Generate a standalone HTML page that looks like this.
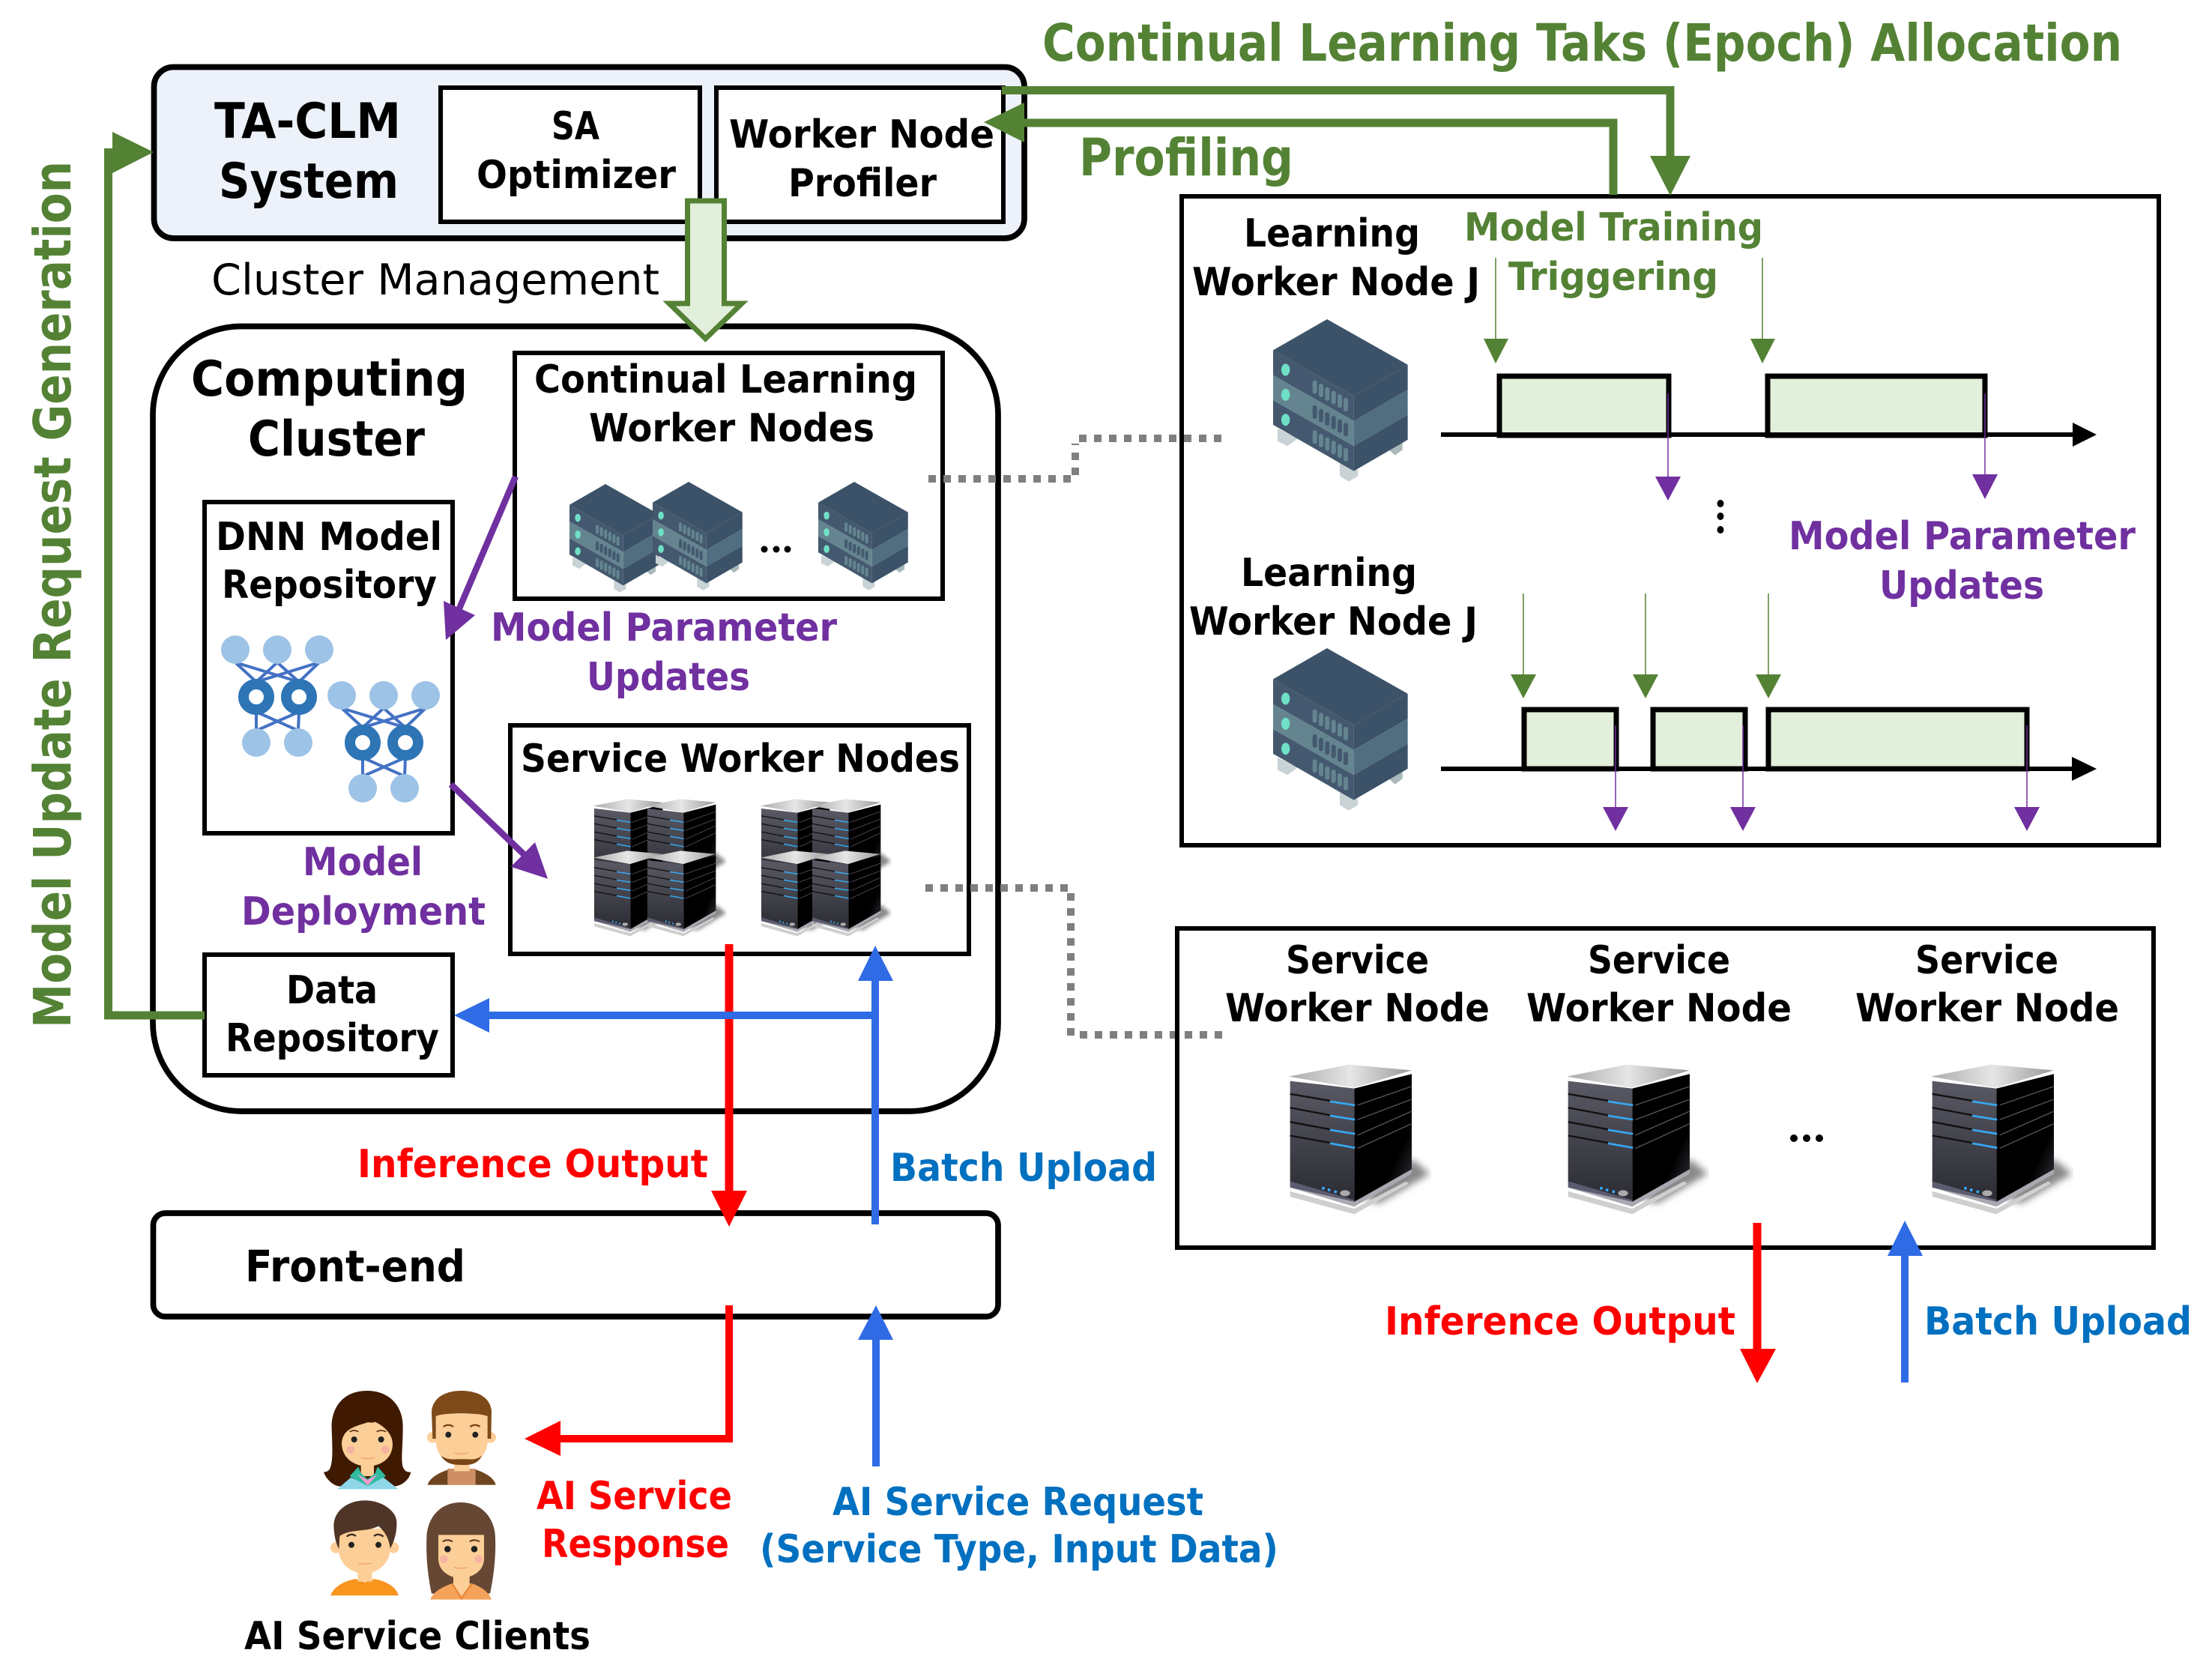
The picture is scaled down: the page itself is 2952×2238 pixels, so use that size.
<!DOCTYPE html>
<html><head><meta charset="utf-8"><style>
html,body{margin:0;padding:0;background:#fff}
svg{display:block}
text{font-family:"DejaVu Sans","Liberation Sans",sans-serif;font-weight:bold;fill:#000}
.g{fill:#548235}.p{fill:#7030A0}.r{fill:#f00}.b{fill:#0070C0}
.m{font-size:52px}.l{font-size:65px}.t{font-size:69px}
.box{fill:#fff;stroke:#000;stroke-width:6}
.tb{fill:#E2EFDA;stroke:#000;stroke-width:7}
.dot{fill:none;stroke:#7F7F7F;stroke-width:10;stroke-dasharray:10 10}
</style></head><body>
<svg xmlns="http://www.w3.org/2000/svg" width="2952" height="2238" viewBox="0 0 2952 2238">
<defs>
<linearGradient id="ft" x1="0" y1="0" x2="0" y2="1"><stop offset="0" stop-color="#5a5a66"/><stop offset="1" stop-color="#2b2b32"/></linearGradient>
<linearGradient id="sd" x1="0" y1="0" x2="1" y2="1"><stop offset="0" stop-color="#000"/><stop offset=".7" stop-color="#000"/><stop offset="1" stop-color="#3d3d48"/></linearGradient>
<linearGradient id="tp" x1="0" y1="0" x2="1" y2="0"><stop offset="0" stop-color="#aaa"/><stop offset=".5" stop-color="#e6e6e6"/><stop offset="1" stop-color="#999"/></linearGradient>
<filter id="bl" x="-30%" y="-30%" width="160%" height="160%"><feGaussianBlur stdDeviation="14"/></filter>
<symbol id="srv" viewBox="60 60 570 610" preserveAspectRatio="none">
<polygon points="552,440 625,500 420,620 360,600" fill="#888" filter="url(#bl)"/>
<polygon points="65,530 322,610 552,480 552,500 322,632 65,555" fill="#a9a9b2"/>
<polygon points="65,570 322,640 530,530 540,540 322,662 65,592" fill="#cfcfcf"/>
<polygon points="60,110 300,62 552,85 320,155" fill="url(#tp)"/>
<polygon points="65,128 322,158 322,612 65,532" fill="url(#ft)"/>
<polygon points="322,158 552,100 552,482 322,612" fill="url(#sd)"/>
<g stroke="#111" stroke-width="7" fill="none">
<path d="M65 180L225 207M65 235L225 265M65 292L225 322M65 347L225 376"/></g>
<g stroke="#35a8f2" stroke-width="8" fill="none">
<path d="M225 210L325 225M225 267L325 283M225 324L325 340M225 378L325 396"/></g>
<g stroke="#55555f" stroke-width="4" fill="none">
<path d="M335 225L550 150M335 283L550 202M335 345L550 250M335 398L550 300"/></g>
<polygon points="65,530 322,605 322,612 65,555" fill="#5c5c70"/>
<circle cx="198" cy="558" r="6" fill="#3aa7f5"/><circle cx="221" cy="565" r="6" fill="#3aa7f5"/><circle cx="247" cy="572" r="6" fill="#3aa7f5"/>
<ellipse cx="285" cy="578" rx="20" ry="12" fill="#aaa"/>
</symbol>
<symbol id="iso" viewBox="147 78 540 650" preserveAspectRatio="none">
<polygon points="165,515 245,555 205,585 165,565" fill="#c9d2d4"/>
<polygon points="414,650 487,680 487,705 450,727 414,705" fill="#c9d2d4"/>
<polygon points="610,600 665,570 665,600 635,622" fill="#a9b8ba"/>
<polygon points="363,78 147,202 470,385 686,260" fill="#3c5268"/>
<polygon points="147,202 470,385 470,485 147,302" fill="#44596f"/>
<polygon points="147,302 470,485 470,585 147,402" fill="#64858f"/>
<polygon points="147,402 470,585 470,685 147,500" fill="#44596f"/>
<polygon points="470,385 686,260 686,360 470,485" fill="#3c5268"/>
<polygon points="470,485 686,360 686,460 470,585" fill="#506e80"/>
<polygon points="470,585 686,460 686,560 470,685" fill="#3c5268"/>
<g fill="#6fe0c6"><ellipse cx="197" cy="280" rx="17" ry="24"/><ellipse cx="197" cy="380" rx="17" ry="24"/><ellipse cx="197" cy="480" rx="17" ry="24"/></g>
<g fill="#64858f"><rect x="305" y="322" width="18" height="54" rx="9"/><rect x="330" y="336" width="18" height="54" rx="9"/><rect x="355" y="350" width="18" height="54" rx="9"/><rect x="380" y="364" width="18" height="54" rx="9"/><rect x="405" y="378" width="18" height="54" rx="9"/><rect x="429" y="392" width="18" height="54" rx="9"/></g>
<g fill="#44596f"><rect x="305" y="422" width="18" height="54" rx="9"/><rect x="330" y="436" width="18" height="54" rx="9"/><rect x="355" y="450" width="18" height="54" rx="9"/><rect x="380" y="464" width="18" height="54" rx="9"/><rect x="405" y="478" width="18" height="54" rx="9"/><rect x="429" y="492" width="18" height="54" rx="9"/></g>
<g fill="#64858f"><rect x="305" y="522" width="18" height="54" rx="9"/><rect x="330" y="536" width="18" height="54" rx="9"/><rect x="355" y="550" width="18" height="54" rx="9"/><rect x="380" y="564" width="18" height="54" rx="9"/><rect x="405" y="578" width="18" height="54" rx="9"/><rect x="429" y="592" width="18" height="54" rx="9"/></g>
</symbol>
<g id="nn">
<g stroke="#4472C4" stroke-width="4" fill="none">
<path d="M314 884L342 910L426 884M370 884L342 910M370 884L399 910L314 884M426 884L399 910"/>
<path d="M342 950L342 975M342 950L398 975M399 950L398 975M399 950L342 975"/>
</g>
<g fill="#9DC3E6"><circle cx="314" cy="867" r="19"/><circle cx="370" cy="867" r="19"/><circle cx="426" cy="867" r="19"/><circle cx="342" cy="991" r="19"/><circle cx="398" cy="991" r="19"/></g>
<g fill="#fff" stroke="#2E75B6" stroke-width="14"><circle cx="342" cy="930" r="17"/><circle cx="399" cy="930" r="17"/></g>
</g>
</defs>

<rect width="2952" height="2238" fill="#fff"/>

<!-- TA-CLM -->
<rect x="205.500" y="89.500" width="1161.500" height="228.500" rx="26" fill="#EDF1F9" stroke="#000" stroke-width="7.700"/>
<rect class="box" x="588" y="117" width="346" height="179"/>
<rect class="box" x="956" y="117" width="383" height="179"/>
<text class="l" x="286" y="184" textLength="249" lengthAdjust="spacingAndGlyphs">TA-CLM</text>
<text class="l" x="292" y="264" textLength="240" lengthAdjust="spacingAndGlyphs">System</text>
<text class="m" x="736" y="186" textLength="64" lengthAdjust="spacingAndGlyphs">SA</text>
<text class="m" x="636" y="251" textLength="266" lengthAdjust="spacingAndGlyphs">Optimizer</text>
<text class="m" x="973" y="197" textLength="354" lengthAdjust="spacingAndGlyphs">Worker Node</text>
<text class="m" x="1052" y="262" textLength="198" lengthAdjust="spacingAndGlyphs">Profiler</text>
<text x="282" y="393" font-size="57" style="font-weight:normal" textLength="598" lengthAdjust="spacingAndGlyphs">Cluster Management</text>

<!-- Computing cluster -->
<rect x="204" y="435.500" width="1128" height="1047.500" rx="118" fill="#fff" stroke="#000" stroke-width="7.700"/>
<text class="l" x="255" y="528" textLength="369" lengthAdjust="spacingAndGlyphs">Computing</text>
<text class="l" x="331" y="608" textLength="236" lengthAdjust="spacingAndGlyphs">Cluster</text>
<rect class="box" x="687" y="471" width="571" height="328"/>
<text class="m" x="713" y="524" textLength="511" lengthAdjust="spacingAndGlyphs">Continual Learning</text>
<text class="m" x="786" y="589" textLength="381" lengthAdjust="spacingAndGlyphs">Worker Nodes</text>
<use href="#iso" x="760" y="646" width="120" height="145"/>
<use href="#iso" x="871" y="643" width="120" height="145"/>
<use href="#iso" x="1092" y="643" width="120" height="145"/>
<circle cx="1020" cy="733" r="4.500"/><circle cx="1036" cy="733" r="4.500"/><circle cx="1051" cy="733" r="4.500"/>

<rect class="box" x="273" y="670" width="331" height="442"/>
<text class="m" x="288" y="734" textLength="302" lengthAdjust="spacingAndGlyphs">DNN Model</text>
<text class="m" x="296" y="798" textLength="287" lengthAdjust="spacingAndGlyphs">Repository</text>
<use href="#nn"/>
<use href="#nn" transform="translate(142,61)"/>

<rect class="box" x="681" y="968" width="612" height="305"/>
<text class="m" x="695" y="1030" textLength="586" lengthAdjust="spacingAndGlyphs">Service Worker Nodes</text>
<use href="#srv" x="792" y="1066" width="107" height="116"/>
<use href="#srv" x="863" y="1066" width="107" height="116"/>
<use href="#srv" x="792" y="1135" width="107" height="116"/>
<use href="#srv" x="863" y="1135" width="107" height="116"/>
<use href="#srv" x="1015" y="1066" width="107" height="116"/>
<use href="#srv" x="1083" y="1066" width="107" height="116"/>
<use href="#srv" x="1015" y="1135" width="107" height="116"/>
<use href="#srv" x="1083" y="1135" width="107" height="116"/>

<rect class="box" x="273" y="1274" width="331" height="161"/>
<text class="m" x="382" y="1339" textLength="122" lengthAdjust="spacingAndGlyphs">Data</text>
<text class="m" x="301" y="1403" textLength="285" lengthAdjust="spacingAndGlyphs">Repository</text>

<text class="m p" x="655" y="855" textLength="462" lengthAdjust="spacingAndGlyphs">Model Parameter</text>
<text class="m p" x="783" y="921" textLength="218" lengthAdjust="spacingAndGlyphs">Updates</text>
<text class="m p" x="404" y="1168" textLength="160" lengthAdjust="spacingAndGlyphs">Model</text>
<text class="m p" x="322" y="1234" textLength="326" lengthAdjust="spacingAndGlyphs">Deployment</text>

<!-- purple arrows -->
<g stroke="#7030A0" stroke-width="8.500" fill="none"><path d="M688 636L613 812"/><path d="M601.700 1046.700L700 1141"/></g>
<polygon points="592,802 634,821 595,854" fill="#7030A0"/>
<polygon points="714,1124 681.700,1156.700 731,1172.700" fill="#7030A0"/>

<!-- Front-end -->
<rect x="204.500" y="1619" width="1127.500" height="138" rx="16" fill="#fff" stroke="#000" stroke-width="7.700"/>
<text x="327" y="1710" font-size="58" textLength="294" lengthAdjust="spacingAndGlyphs">Front-end</text>

<!-- red / blue -->
<path d="M973 1260V1592" stroke="#f00" stroke-width="11" fill="none"/>
<polygon points="949,1589 997,1589 973,1637" fill="#f00"/>
<path d="M1168 1634V1305M1168 1355H650" stroke="#2F6BE4" stroke-width="10" fill="none"/>
<polygon points="1145,1309 1192,1309 1168,1262" fill="#2F6BE4"/>
<polygon points="653,1332 653,1378 606,1355" fill="#2F6BE4"/>
<path d="M973 1742V1920H745" stroke="#f00" stroke-width="10" fill="none"/>
<polygon points="748,1896 748,1943 700,1920" fill="#f00"/>
<path d="M1169 1957V1785" stroke="#2F6BE4" stroke-width="10" fill="none"/>
<polygon points="1145,1788 1192,1788 1169,1742" fill="#2F6BE4"/>
<text class="m r" x="477" y="1571" textLength="468" lengthAdjust="spacingAndGlyphs">Inference Output</text>
<text class="m b" x="1188" y="1576" textLength="356" lengthAdjust="spacingAndGlyphs">Batch Upload</text>
<text class="m r" x="716" y="2014" textLength="261" lengthAdjust="spacingAndGlyphs">AI Service</text>
<text class="m r" x="723" y="2078" textLength="250" lengthAdjust="spacingAndGlyphs">Response</text>
<text class="m b" x="1111" y="2022" textLength="495" lengthAdjust="spacingAndGlyphs">AI Service Request</text>
<text class="m b" x="1014" y="2085" textLength="692" lengthAdjust="spacingAndGlyphs">(Service Type, Input Data)</text>
<text class="m" x="326" y="2201" textLength="462" lengthAdjust="spacingAndGlyphs">AI Service Clients</text>

<!-- avatars -->
<g transform="translate(400,1840) scale(.3333)">
<!-- woman 1 -->
<path d="M270 48C170 48 125 120 128 200C130 270 135 330 120 362C110 375 100 372 96 374C105 400 130 425 155 430H385C415 425 440 400 445 374C430 374 420 372 412 350C405 320 413 270 413 190C413 110 360 48 270 48Z" fill="#3f1a00"/>
<path d="M270 175C225 190 170 200 168 260C170 320 220 350 270 350C325 350 372 320 372 260C370 210 320 180 300 172C290 180 280 172 270 175Z" fill="#fdcf98"/>
<rect x="245" y="340" width="52" height="50" fill="#fdcf98"/>
<path d="M150 442L205 395L270 425L335 395L395 442Z" fill="#8fd6e8"/>
<path d="M200 390L235 352L245 378L272 402L302 378L312 352L345 390L272 430Z" fill="#2fbca0"/>
<path d="M230 382L272 405L312 382L272 428Z" fill="#f59ad0"/>
<circle cx="218" cy="243" r="12" fill="#222"/><circle cx="326" cy="243" r="12" fill="#222"/>
<circle cx="203" cy="284" r="16" fill="#f6b4a0"/><circle cx="343" cy="284" r="16" fill="#f6b4a0"/>
<path d="M245 315Q272 325 300 315" stroke="#f0a070" stroke-width="4" fill="none"/>
<path d="M200 212Q218 202 235 212M308 212Q326 202 345 212" stroke="#5a3015" stroke-width="5" fill="none"/>
<!-- man 1 -->
<path d="M512 425C520 395 560 375 600 362H700C740 375 778 395 785 425Z" fill="#6e4520"/>
<rect x="592" y="360" width="112" height="65" fill="#cf8f66"/>
<circle cx="532" cy="235" r="22" fill="#fdcf98"/><circle cx="764" cy="235" r="22" fill="#fdcf98"/>
<rect x="618" y="325" width="62" height="45" fill="#fdcf98"/>
<path d="M545 140H752V250C752 310 700 345 650 345C595 345 545 310 545 250Z" fill="#fdcf98"/>
<path d="M648 48C570 48 532 85 528 130L532 240L545 240V150C570 135 720 135 752 150V240L766 240L768 130C765 85 725 48 648 48Z" fill="#7e4a1a"/>
<path d="M565 308C600 330 620 320 648 322C680 320 700 330 730 308C710 345 680 345 648 345C610 345 585 340 565 308Z" fill="#7a4516"/>
<circle cx="595" cy="224" r="12" fill="#222"/><circle cx="703" cy="224" r="12" fill="#222"/>
<path d="M575 192Q595 178 615 192M682 192Q703 178 722 192" stroke="#7a4516" stroke-width="7" fill="none"/>
<path d="M620 296Q648 305 676 296" stroke="#f0a070" stroke-width="4" fill="none"/>
<!-- boy -->
<path d="M124 868C135 830 190 805 225 802L260 815L298 802C340 808 385 830 396 868Z" fill="#f7951d"/>
<rect x="232" y="770" width="58" height="42" fill="#fdcf98"/>
<circle cx="145" cy="676" r="22" fill="#fdcf98"/><circle cx="375" cy="676" r="22" fill="#fdcf98"/>
<path d="M155 600H362V680C362 740 310 780 260 780C205 780 155 740 155 680Z" fill="#fdcf98"/>
<path d="M262 487C190 487 136 530 136 590C138 630 145 660 157 682L160 630C200 600 270 615 315 590C340 610 358 640 362 680C380 650 390 610 388 570C385 530 330 487 262 487Z" fill="#4f3527"/>
<circle cx="207" cy="665" r="12" fill="#222"/><circle cx="315" cy="665" r="12" fill="#222"/>
<path d="M188 632Q207 616 225 630M297 630Q315 616 335 632" stroke="#3a2a20" stroke-width="7" fill="none"/>
<path d="M236 738Q262 746 288 738" stroke="#f0a070" stroke-width="4" fill="none"/>
<!-- woman 2 -->
<path d="M645 495C560 495 508 560 508 640C505 720 515 800 528 860H762C775 800 786 720 783 640C783 560 730 495 645 495Z" fill="#654733"/>
<path d="M523 884C535 850 580 830 610 820H690C720 830 755 850 768 884Z" fill="#f5a35a"/>
<path d="M615 780H680V825L648 870L615 825Z" fill="#fdcf98"/>
<path d="M610 820L648 880L690 820" stroke="#e88a3a" stroke-width="7" fill="none"/>
<path d="M555 625H738V720C738 770 690 798 645 798C600 798 555 770 555 720Z" fill="#fdcf98"/>
<circle cx="592" cy="682" r="13" fill="#222"/><circle cx="699" cy="682" r="13" fill="#222"/>
<circle cx="577" cy="722" r="16" fill="#f6b4a0"/><circle cx="716" cy="722" r="16" fill="#f6b4a0"/>
<path d="M572 652Q592 640 612 652M680 652Q699 640 720 652" stroke="#5a3a25" stroke-width="6" fill="none"/>
<path d="M618 755Q645 763 672 755" stroke="#f0a070" stroke-width="4" fill="none"/>
</g>

<!-- left green -->
<path d="M273 1355H144.500V198" stroke="#548235" stroke-width="11" fill="none"/>
<polygon points="150,176 205,203 150,231" fill="#548235"/>
<text class="t g" transform="translate(94,1372) rotate(-90)" textLength="1157" lengthAdjust="spacingAndGlyphs">Model Update Request Generation</text>

<!-- hollow arrow -->
<polygon points="917.500,268 966.500,268 966.500,405 990,405 941.500,452 893,405 917.500,405" fill="#E2EFDA" stroke="#548235" stroke-width="7"/>

<!-- dotted -->
<path class="dot" d="M1239 639H1430"/>
<path class="dot" d="M1435 634V592"/>
<path class="dot" d="M1440 585H1640"/>
<path class="dot" d="M1235 1185H1426"/>
<path class="dot" d="M1429 1192V1382"/>
<path class="dot" d="M1441 1381H1631"/>

<!-- right top panel -->
<rect x="1577" y="262" width="1304" height="866" fill="none" stroke="#000" stroke-width="6"/>
<text class="m" x="1660" y="329" textLength="235" lengthAdjust="spacingAndGlyphs">Learning</text>
<text class="m" x="1591" y="394" textLength="384" lengthAdjust="spacingAndGlyphs">Worker Node J</text>
<text class="m g" x="1954" y="321" textLength="399" lengthAdjust="spacingAndGlyphs">Model Training</text>
<text class="m g" x="2013" y="387" textLength="280" lengthAdjust="spacingAndGlyphs">Triggering</text>
<use href="#iso" x="1699" y="426" width="180" height="217"/>
<use href="#iso" x="1699" y="865" width="180" height="217"/>
<rect class="tb" x="2001" y="502" width="226" height="79"/>
<rect class="tb" x="2359" y="502" width="290" height="79"/>
<path d="M1923 580H2770" stroke="#000" stroke-width="6"/>
<polygon points="2766,564 2798,580 2766,596"/>
<g stroke="#548235" stroke-width="1.500"><path d="M1996 344V455M2352 344V455"/></g>
<polygon points="1980,452 2013,452 1996,485" fill="#548235"/>
<polygon points="2336,452 2369,452 2352,485" fill="#548235"/>
<g stroke="#7030A0" stroke-width="1.500"><path d="M2226 525V640M2649 525V640"/></g>
<polygon points="2209,636 2243,636 2226,668" fill="#7030A0"/>
<polygon points="2632,633 2666,633 2649,666" fill="#7030A0"/>
<ellipse cx="2296" cy="672" rx="4.500" ry="5"/><ellipse cx="2296" cy="689" rx="4.500" ry="5"/><ellipse cx="2296" cy="707" rx="4.500" ry="5"/>
<text class="m p" x="2387" y="733" textLength="463" lengthAdjust="spacingAndGlyphs">Model Parameter</text>
<text class="m p" x="2508" y="799" textLength="220" lengthAdjust="spacingAndGlyphs">Updates</text>
<text class="m" x="1656" y="782" textLength="235" lengthAdjust="spacingAndGlyphs">Learning</text>
<text class="m" x="1587" y="847" textLength="385" lengthAdjust="spacingAndGlyphs">Worker Node J</text>
<rect class="tb" x="2034" y="947" width="123" height="79"/>
<rect class="tb" x="2206" y="947" width="123" height="79"/>
<rect class="tb" x="2360" y="947" width="345" height="79"/>
<path d="M1923 1026H2770" stroke="#000" stroke-width="6"/>
<polygon points="2765,1010 2798,1026 2765,1042"/>
<g stroke="#548235" stroke-width="1.500"><path d="M2033 792V903M2196 792V903M2360 792V903"/></g>
<polygon points="2016,900 2050,900 2033,932" fill="#548235"/>
<polygon points="2179,900 2213,900 2196,932" fill="#548235"/>
<polygon points="2343,900 2377,900 2360,932" fill="#548235"/>
<g stroke="#7030A0" stroke-width="1.500"><path d="M2156 968V1080M2326 968V1080M2705 968V1080"/></g>
<polygon points="2139,1077 2173,1077 2156,1109" fill="#7030A0"/>
<polygon points="2309,1077 2343,1077 2326,1109" fill="#7030A0"/>
<polygon points="2688,1077 2722,1077 2705,1109" fill="#7030A0"/>

<!-- right bottom panel -->
<rect x="1571" y="1239" width="1303" height="426" fill="none" stroke="#000" stroke-width="6"/>
<text class="m" x="1716" y="1299" textLength="191" lengthAdjust="spacingAndGlyphs">Service</text>
<text class="m" x="1635" y="1363" textLength="353" lengthAdjust="spacingAndGlyphs">Worker Node</text>
<text class="m" x="2119" y="1299" textLength="190" lengthAdjust="spacingAndGlyphs">Service</text>
<text class="m" x="2037" y="1363" textLength="354" lengthAdjust="spacingAndGlyphs">Worker Node</text>
<text class="m" x="2556" y="1299" textLength="191" lengthAdjust="spacingAndGlyphs">Service</text>
<text class="m" x="2476" y="1363" textLength="352" lengthAdjust="spacingAndGlyphs">Worker Node</text>
<use href="#srv" x="1720" y="1420" width="190" height="203"/>
<use href="#srv" x="2091" y="1420" width="190" height="203"/>
<use href="#srv" x="2577" y="1420" width="190" height="203"/>
<circle cx="2394" cy="1519" r="5"/><circle cx="2411" cy="1519" r="5"/><circle cx="2428" cy="1519" r="5"/>
<path d="M2345 1632V1803" stroke="#f00" stroke-width="11"/>
<polygon points="2322,1800 2370,1800 2345,1846" fill="#f00"/>
<path d="M2542 1845V1673" stroke="#2F6BE4" stroke-width="10"/>
<polygon points="2519,1676 2566,1676 2542,1629" fill="#2F6BE4"/>
<text class="m r" x="1848" y="1781" textLength="468" lengthAdjust="spacingAndGlyphs">Inference Output</text>
<text class="m b" x="2568" y="1781" textLength="357" lengthAdjust="spacingAndGlyphs">Batch Upload</text>

<!-- top green -->
<path d="M1337 120.500H2229V212" stroke="#548235" stroke-width="11" fill="none"/>
<polygon points="2202,208 2256,208 2229,261" fill="#548235"/>
<path d="M2153 260V164H1362" stroke="#548235" stroke-width="11" fill="none"/>
<polygon points="1367,137 1367,190 1313,163" fill="#548235"/>
<text class="t g" x="1391" y="81" textLength="1441" lengthAdjust="spacingAndGlyphs">Continual Learning Taks (Epoch) Allocation</text>
<text class="t g" x="1440" y="234" textLength="286" lengthAdjust="spacingAndGlyphs">Profiling</text>
</svg>
</body></html>
